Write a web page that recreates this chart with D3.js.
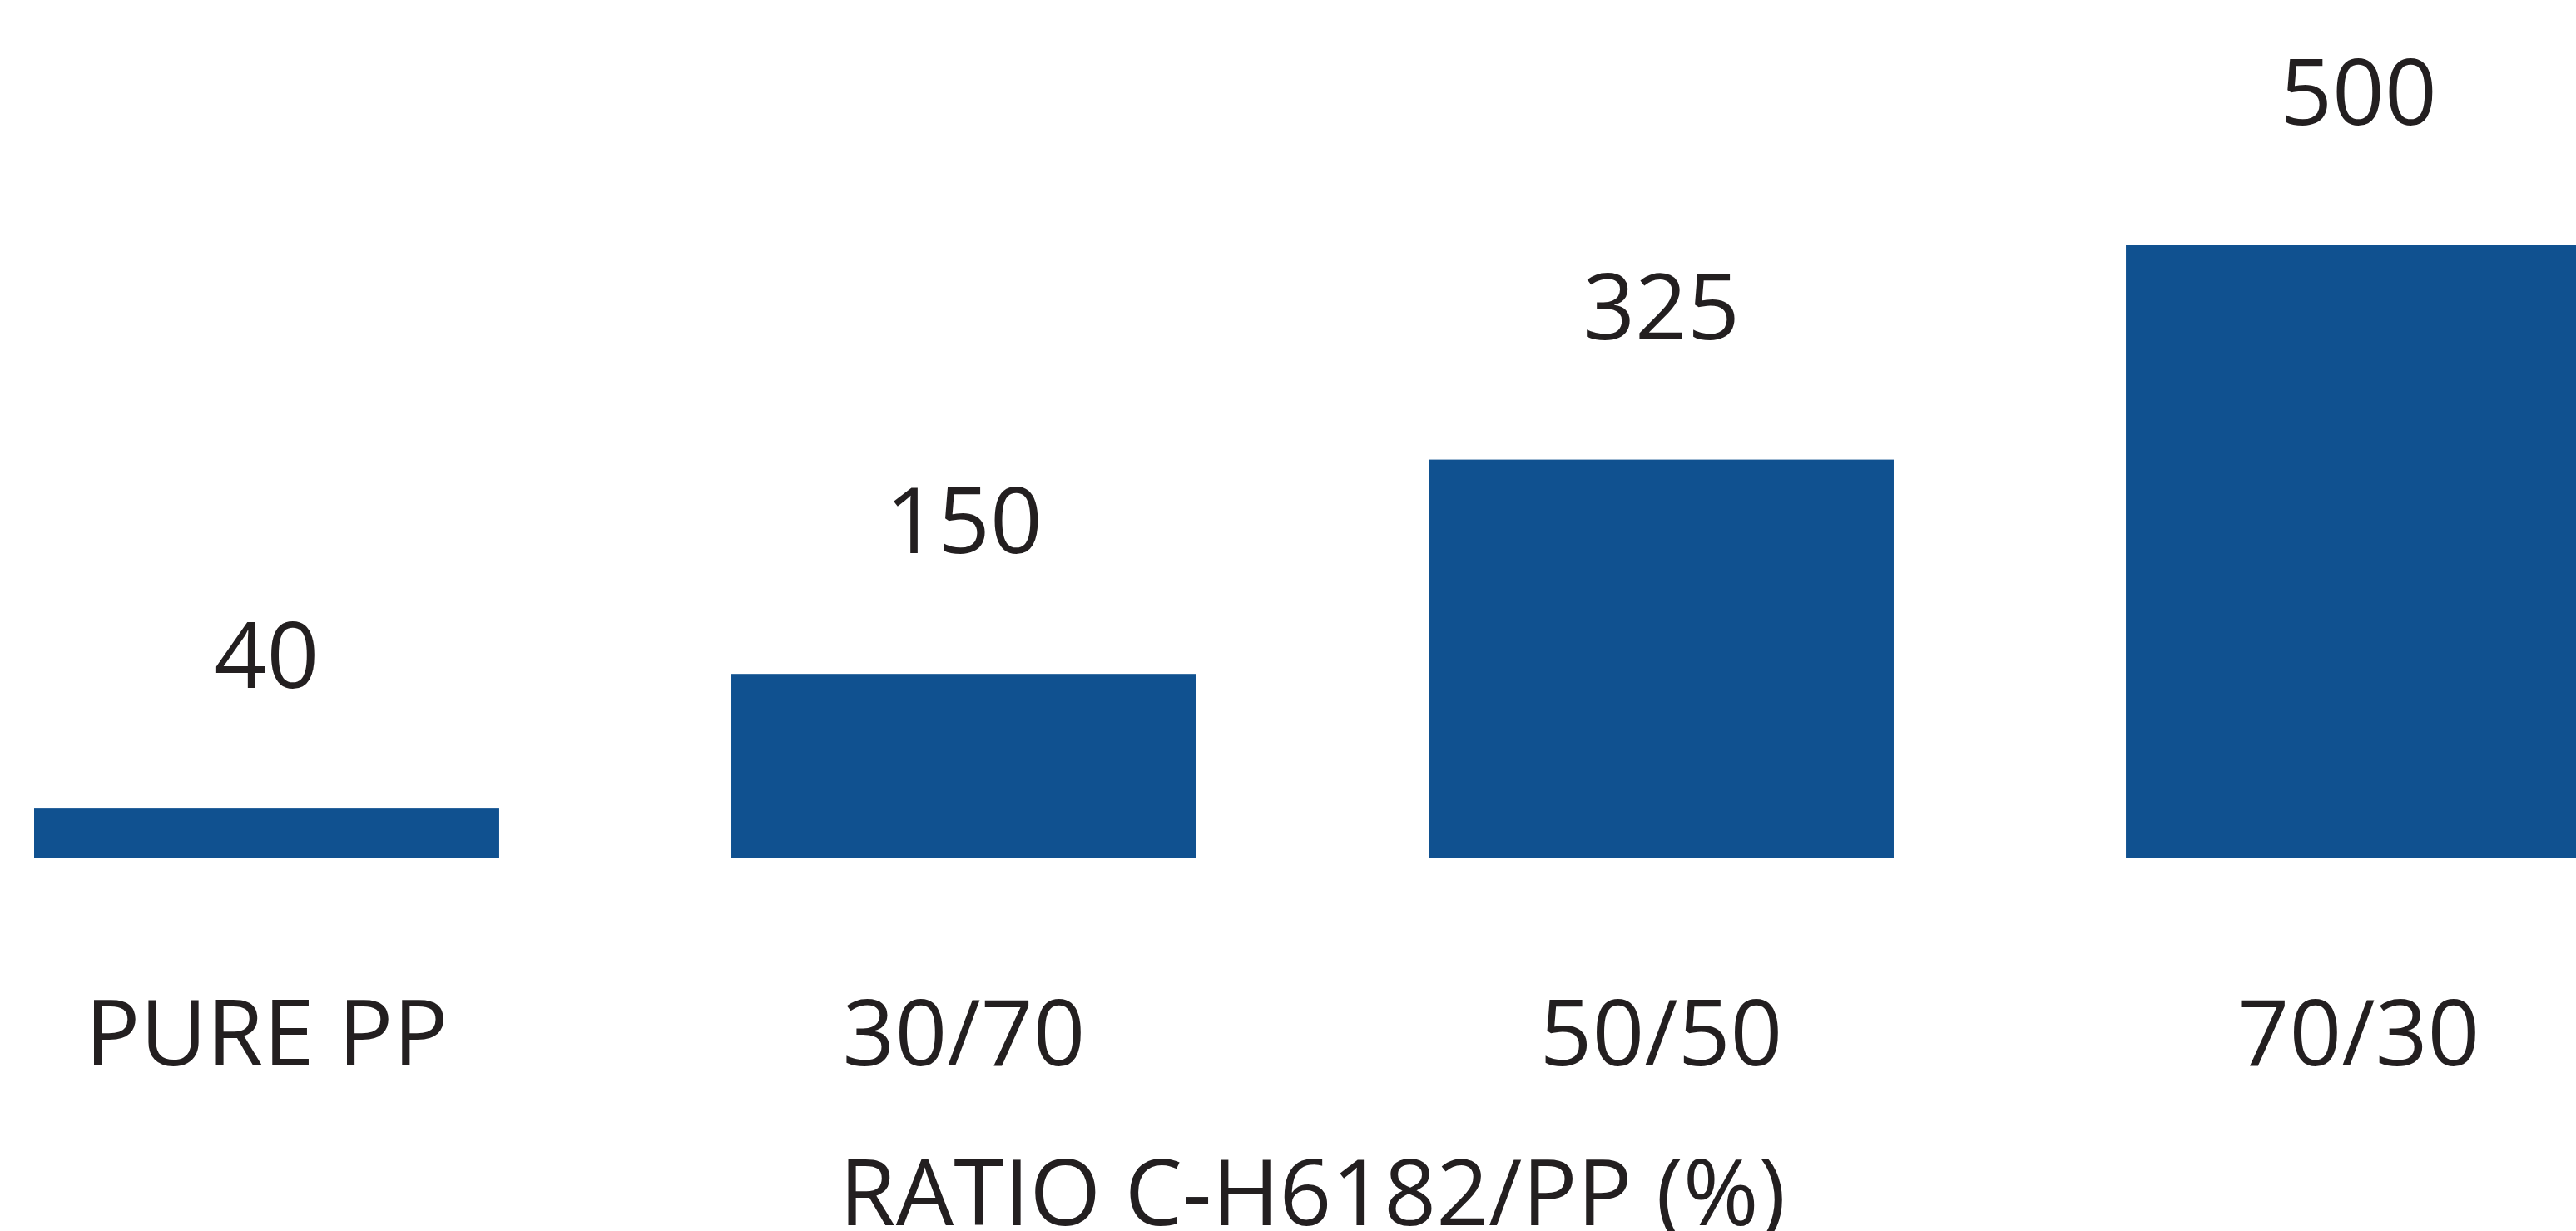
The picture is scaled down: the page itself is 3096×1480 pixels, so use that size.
<!doctype html>
<html>
<head>
<meta charset="utf-8">
<script src="https://d3js.org/d3.v7.min.js"></script>
<style>
  html, body { margin: 0; padding: 0; background: #fff; }
  svg { display: block; }
  .lbl { font-family: "Open Sans", sans-serif; font-size: 110px; fill: #231f20; text-anchor: middle; }
</style>
</head>
<body>
<svg id="chart"></svg>
<script>
// data
var categories = ["PURE PP", "30/70", "50/50", "70/30"];
var values = [40, 150, 325, 500];
var axisTitle = "RATIO C-H6182/PP (%)";

var width = 3096,
    height = 1480;

var baseY = 1031, topY = 295;

var svg = d3.select("#chart")
    .attr("width", width)
    .attr("height", height);

var x = d3.scaleBand()
    .domain(categories)
    .range([41, 3114])
    .paddingInner(0.333)
    .paddingOuter(0);

var y = d3.scaleLinear()
    .domain([0, 500])
    .range([baseY, topY]);

var g = svg.append("g");

// bars
g.selectAll("rect.bar")
    .data(values)
    .enter().append("rect")
    .attr("class", "bar")
    .attr("x", function(d, i) { return x(categories[i]); })
    .attr("y", function(d) { return y(d); })
    .attr("width", x.bandwidth())
    .attr("height", function(d) { return baseY - y(d); })
    .attr("fill", "#105190");

// value labels
g.selectAll("text.val")
    .data(values)
    .enter().append("text")
    .attr("class", "lbl val")
    .attr("x", function(d, i) { return x(categories[i]) + x.bandwidth() / 2; })
    .attr("y", function(d) { return y(d) - 145; })
    .text(function(d) { return d; });

// category labels (axis without line/ticks)
var xAxis = d3.axisBottom(x).tickSize(0).tickPadding(0);
var ax = svg.append("g")
    .attr("transform", "translate(0,1281)")
    .call(xAxis);
ax.select(".domain").remove();
ax.selectAll("text")
    .attr("class", "lbl")
    .attr("dy", null)
    .attr("y", 0)
    .style("font-family", "'Open Sans', sans-serif")
    .style("font-size", "110px")
    .attr("fill", "#231f20");

// axis title
svg.append("text")
    .attr("class", "lbl")
    .attr("x", (x.range()[0] + x.range()[1]) / 2)
    .attr("y", 1473)
    .text(axisTitle);
</script>
</body>
</html>
